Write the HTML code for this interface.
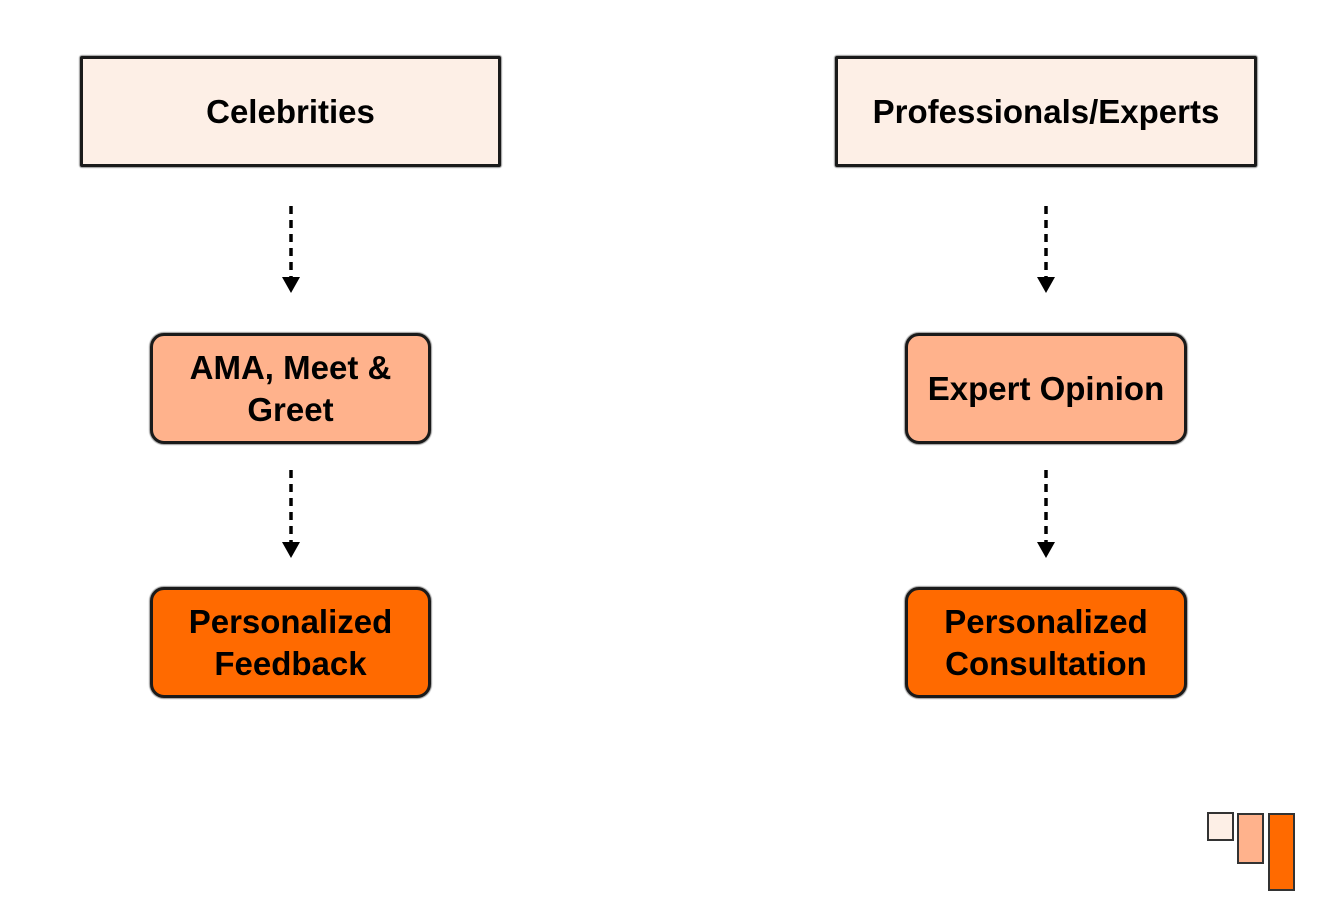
<!DOCTYPE html>
<html><head><style>
body{margin:0;width:1318px;height:906px;background:#fff;position:relative;overflow:hidden;font-family:"Liberation Sans",Arial,sans-serif}
.b{position:absolute;box-sizing:border-box;border:3.5px solid #1a1a1a;display:flex;align-items:center;justify-content:center;text-align:center;font-size:33px;font-weight:bold;color:#000;line-height:42px;box-shadow:0 0 1px 1px rgba(0,0,0,.4)}
.t{background:#fdefe6;border-radius:2px}
.m{background:#ffb28c;border-radius:14px}
.o{background:#ff6a00;border-radius:14px}
svg{position:absolute;left:0;top:0}
</style></head><body>
<div class="b t" style="left:80px;top:56px;width:421px;height:111px">Celebrities</div>
<div class="b t" style="left:835px;top:56px;width:422px;height:111px">Professionals/Experts</div>
<div class="b m" style="left:150px;top:333px;width:281px;height:111px">AMA, Meet &amp;<br>Greet</div>
<div class="b m" style="left:905px;top:333px;width:282px;height:111px">Expert Opinion</div>
<div class="b o" style="left:150px;top:587px;width:281px;height:111px">Personalized<br>Feedback</div>
<div class="b o" style="left:905px;top:587px;width:282px;height:111px">Personalized<br>Consultation</div>
<svg width="1318" height="906">
<g stroke="#000" stroke-width="3.5" stroke-dasharray="8,6">
<line x1="291" y1="206" x2="291" y2="278"/>
<line x1="1046" y1="206" x2="1046" y2="278"/>
<line x1="291" y1="470" x2="291" y2="543"/>
<line x1="1046" y1="470" x2="1046" y2="543"/>
</g>
<g fill="#000">
<polygon points="282,277 300,277 291,293"/>
<polygon points="1037,277 1055,277 1046,293"/>
<polygon points="282,542 300,542 291,558"/>
<polygon points="1037,542 1055,542 1046,558"/>
</g>
<g stroke="#333" stroke-width="2">
<rect x="1208" y="813" width="25" height="27" fill="#fdefe6"/>
<rect x="1238" y="814" width="25" height="49" fill="#ffb28c"/>
<rect x="1269" y="814" width="25" height="76" fill="#ff6a00"/>
</g>
</svg>
</body></html>
